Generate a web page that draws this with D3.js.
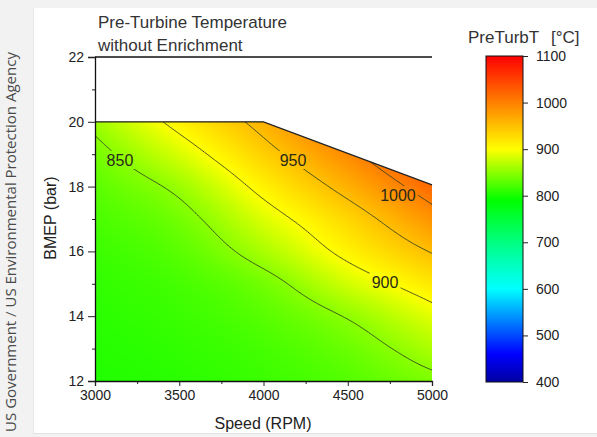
<!DOCTYPE html>
<html><head><meta charset="utf-8">
<script src="https://cdn.jsdelivr.net/npm/d3@7"></script>
<style>
html,body{margin:0;padding:0;background:#f2f2f2;}
svg{display:block;}
</style></head><body><div id="chart"></div>
<script>
// ---------- data ----------
const speeds=[3000,3500,4000,4500,5000];
const bmeps=[12,13,14,15,16,17,18,19,20];
// temperature grid (°C): rows = bmeps, columns = speeds
const temps=[
 [804,808,815,826,843],
 [806,811,820,836,864],
 [808,815,828,852,888],
 [811,820,840,880,918],
 [815,829,863,909,952],
 [821,840,885,932,985],
 [829,857,910,962,1018],
 [840,883,937,992,1050],
 [858,910,962,1022,1080]
];
const boundarySpeed=[3000,5000,5000,4000,3000];
const boundaryBmep=[12,12,18.05,20,20];
const contourLevels=[850,900,950,1000];
const labelText=["850","900","950","1000"];
const labelSpeed=[3148,4721,4175,4798];
const labelBmep=[18.82,15.06,18.82,17.74];
const xTicks=[3000,3500,4000,4500,5000];
const xMinor=[3250,3750,4250,4750];
const yTicks=[12,14,16,18,20,22];
const yMinor=[13,15,17,19,21];
const cbTicks=[400,500,600,700,800,900,1000,1100];
const cmapStops=[400,460,600,700,790,900,1000,1100];
const cmapColors=["#0000a0","#0000ff","#00ffff","#00ff80","#00ff00","#ffff00","#ff8000","#ff0000"];

// ---------- layout ----------
const W=597,H=437;
const x=d3.scaleLinear().domain([3000,5000]).range([95,432]);
const y=d3.scaleLinear().domain([12,22]).range([381,57]);
const cy=d3.scaleLinear().domain([400,1100]).range([382,56]);
const color=d3.scaleLinear().domain(cmapStops).range(cmapColors).interpolate(d3.interpolateRgb).clamp(true);
const FONT="'Liberation Sans', Arial, sans-serif";

// smooth (Catmull-Rom) interpolation of the grid, for drawing only
function gv(j,i){
  const nI=speeds.length, nJ=bmeps.length;
  if(i<0) return 2*gv(j,0)-gv(j,1);
  if(i>=nI) return 2*gv(j,nI-1)-gv(j,nI-2);
  if(j<0) return 2*gv(0,i)-gv(1,i);
  if(j>=nJ) return 2*gv(nJ-1,i)-gv(nJ-2,i);
  return temps[j][i];
}
function cr(p0,p1,p2,p3,t){
  return p1+0.5*t*(p2-p0+t*(2*p0-5*p1+4*p2-p3+t*(3*(p1-p2)+p3-p0)));
}
function T(s,b){
  let fx=(s-speeds[0])/(speeds[1]-speeds[0]);
  let fy=(b-bmeps[0])/(bmeps[1]-bmeps[0]);
  fx=Math.max(0,Math.min(speeds.length-1,fx));
  fy=Math.max(0,Math.min(bmeps.length-1,fy));
  const i=Math.min(Math.floor(fx),speeds.length-2), j=Math.min(Math.floor(fy),bmeps.length-2);
  const tx=fx-i, ty=fy-j;
  const rows=[];
  for(let jj=j-1;jj<=j+2;jj++) rows.push(cr(gv(jj,i-1),gv(jj,i),gv(jj,i+1),gv(jj,i+2),tx));
  return cr(rows[0],rows[1],rows[2],rows[3],ty);
}

const svg=d3.select("#chart").append("svg").attr("width",W).attr("height",H);
// card
svg.append("rect").attr("x",33).attr("y",8).attr("width",W-33).attr("height",425).attr("fill","#fff");
svg.append("line").attr("x1",33).attr("x2",W).attr("y1",433.5).attr("y2",433.5).attr("stroke","#e2e2e2");
svg.append("line").attr("x1",33.5).attr("x2",33.5).attr("y1",8).attr("y2",433).attr("stroke","#e8e8e8");

// side credit
svg.append("text").attr("transform","translate(16,242) rotate(-90)")
  .attr("text-anchor","middle").attr("font-family","'Open Sans', 'Noto Sans', sans-serif")
  .attr("font-size",15).attr("fill","#4a4a4a").text("US Government / US Environmental Protection Agency");

const defs=svg.append("defs");
const boundaryPts=boundarySpeed.map((s,k)=>[x(s),y(boundaryBmep[k])]);
defs.append("clipPath").attr("id","dataClip").append("polygon")
  .attr("points",boundaryPts.map(p=>p.join(",")).join(" "));

// heatmap raster
const px0=Math.floor(x(3000)), px1=Math.ceil(x(5000)), py0=Math.floor(y(20.2)), py1=Math.ceil(y(12));
const cw=px1-px0, ch=py1-py0;
const canvas=document.createElement("canvas");
canvas.width=cw; canvas.height=ch;
const ctx=canvas.getContext("2d");
const img=ctx.createImageData(cw,ch);
for(let j=0;j<ch;j++){
  for(let i=0;i<cw;i++){
    const s=x.invert(px0+i+0.5), b=y.invert(py0+j+0.5);
    const c=d3.rgb(color(T(s,b)));
    const k=(j*cw+i)*4;
    img.data[k]=c.r; img.data[k+1]=c.g; img.data[k+2]=c.b; img.data[k+3]=255;
  }
}
ctx.putImageData(img,0,0);
svg.append("image").attr("x",px0).attr("y",py0).attr("width",cw).attr("height",ch)
  .attr("href",canvas.toDataURL()).attr("clip-path","url(#dataClip)");

// contours
const nx=201, ny=161, ds=10, db=0.05;
const vals=new Array(nx*ny);
for(let j=0;j<ny;j++) for(let i=0;i<nx;i++) vals[j*nx+i]=T(3000+i*ds,12+j*db);
const contours=d3.contours().size([nx,ny]).thresholds(contourLevels)(vals);
const proj=d3.geoTransform({point:function(cx,cyy){this.stream.point(x(3000+(cx-0.5)*ds),y(12+(cyy-0.5)*db));}});
const path=d3.geoPath(proj);

// label mask
const mask=defs.append("mask").attr("id","labelMask");
mask.append("rect").attr("x",0).attr("y",0).attr("width",W).attr("height",H).attr("fill","#fff");
labelText.forEach((t,k)=>{
  const w=t.length*9+4;
  mask.append("rect").attr("x",x(labelSpeed[k])-w/2).attr("y",y(labelBmep[k])-9)
    .attr("width",w).attr("height",18).attr("fill","#000");
});
const cg=svg.append("g").attr("clip-path","url(#dataClip)").append("g").attr("mask","url(#labelMask)");
cg.selectAll("path").data(contours).join("path").attr("d",path)
  .attr("fill","none").attr("stroke","#2c3a22").attr("stroke-width",1).attr("stroke-opacity",0.85);

svg.append("g").selectAll("text").data(labelText).join("text")
  .attr("x",(d,k)=>x(labelSpeed[k])).attr("y",(d,k)=>y(labelBmep[k])+6)
  .attr("text-anchor","middle").attr("font-family",FONT).attr("font-size",16)
  .attr("fill","#2a2a1a").text(d=>d);

// boundary top edge
svg.append("path").attr("d",d3.line()([[x(3000),y(20)],[x(4000),y(20)],[x(5000),y(18.05)]]))
  .attr("fill","none").attr("stroke","#222").attr("stroke-width",1.3);

// axes
svg.append("g").attr("transform",`translate(0,${y(12)})`)
  .call(d3.axisBottom(x).tickValues(xTicks).tickSize(5).tickPadding(4).tickFormat(d3.format("d")));
svg.append("g").attr("transform",`translate(0,${y(12)})`)
  .call(d3.axisBottom(x).tickValues(xMinor).tickSize(3).tickFormat("")).select(".domain").remove();
svg.append("g").attr("transform",`translate(${x(3000)},0)`)
  .call(d3.axisLeft(y).tickValues(yTicks).tickSize(7).tickPadding(4).tickFormat(d3.format("d")));
svg.append("g").attr("transform",`translate(${x(3000)},0)`)
  .call(d3.axisLeft(y).tickValues(yMinor).tickSize(3).tickFormat("")).select(".domain").remove();
svg.selectAll(".tick text").attr("font-family",FONT).attr("font-size",14).attr("fill","#222");
svg.selectAll(".domain").attr("stroke","#111").attr("stroke-width",1.3);
svg.selectAll(".tick line").attr("stroke","#222");
// top border
svg.append("line").attr("x1",x(3000)).attr("x2",x(5000)).attr("y1",y(22)).attr("y2",y(22))
  .attr("stroke","#111").attr("stroke-width",1.3);

// axis titles
svg.append("text").attr("x",263).attr("y",429).attr("text-anchor","middle")
  .attr("font-family",FONT).attr("font-size",16).attr("fill","#222").text("Speed (RPM)");
svg.append("text").attr("transform","translate(56,218) rotate(-90)").attr("text-anchor","middle")
  .attr("font-family",FONT).attr("font-size",16).attr("fill","#222").text("BMEP (bar)");

// title
svg.append("text").attr("x",98).attr("y",28).attr("font-family",FONT).attr("font-size",17)
  .attr("fill","#333").text("Pre-Turbine Temperature");
svg.append("text").attr("x",98).attr("y",51).attr("font-family",FONT).attr("font-size",17)
  .attr("fill","#333").text("without Enrichment");

// colorbar
const grad=defs.append("linearGradient").attr("id","cbGrad").attr("x1",0).attr("x2",0).attr("y1",1).attr("y2",0);
d3.range(400,1101,10).forEach(v=>{
  grad.append("stop").attr("offset",(v-400)/700).attr("stop-color",color(v));
});
svg.append("rect").attr("x",486).attr("y",56).attr("width",37).attr("height",326)
  .attr("fill","url(#cbGrad)").attr("stroke","#111").attr("stroke-width",1);
const cba=svg.append("g").attr("transform","translate(523,0)")
  .call(d3.axisRight(cy).tickValues(cbTicks).tickSize(5).tickPadding(8).tickFormat(d3.format("d")));
cba.select(".domain").remove();
cba.selectAll(".tick text").attr("font-family",FONT).attr("font-size",14).attr("fill","#222");
cba.selectAll(".tick line").attr("stroke","#222");
svg.append("text").attr("x",468).attr("y",43).attr("font-family",FONT).attr("font-size",17)
  .attr("fill","#333").text("PreTurbT");
svg.append("text").attr("x",551).attr("y",43).attr("font-family",FONT).attr("font-size",17)
  .attr("fill","#333").text("[°C]");
</script></body></html>
